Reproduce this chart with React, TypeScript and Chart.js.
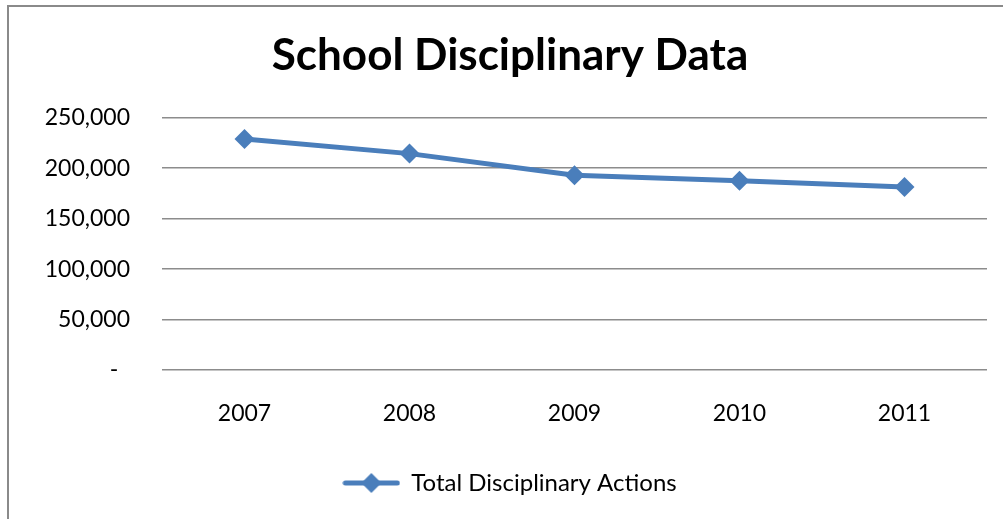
import React, { useEffect, useRef } from "react";
import { Chart, registerables } from "chart.js";

Chart.register(...registerables);

const years = ["2007", "2008", "2009", "2010", "2011"];
const totalActions = [229000, 214500, 193000, 187500, 181500];
const seriesName = "Total Disciplinary Actions";
const chartTitle = "School Disciplinary Data";
const yTicks = [0, 50000, 100000, 150000, 200000, 250000];

const BLUE = "#4a7ebb";
const GRID = "#8c8c8c";
const FONT = "Lato";

function makeLegendMarker(): HTMLCanvasElement {
  const c = document.createElement("canvas");
  c.width = 58;
  c.height = 22;
  const ctx = c.getContext("2d")!;
  ctx.strokeStyle = BLUE;
  ctx.lineWidth = 5;
  ctx.lineCap = "round";
  ctx.beginPath();
  ctx.moveTo(3, 11);
  ctx.lineTo(55, 11);
  ctx.stroke();
  ctx.fillStyle = BLUE;
  ctx.beginPath();
  ctx.moveTo(29, 1);
  ctx.lineTo(39, 11);
  ctx.lineTo(29, 21);
  ctx.lineTo(19, 11);
  ctx.closePath();
  ctx.fill();
  return c;
}

const frame = {
  id: "frame",
  beforeDraw(chart: Chart) {
    const ctx = chart.ctx;
    ctx.save();
    ctx.fillStyle = "#ffffff";
    ctx.fillRect(0, 0, chart.width, chart.height);
    ctx.strokeStyle = "#8a8a8a";
    ctx.lineWidth = 2;
    ctx.beginPath();
    ctx.moveTo(8, chart.height + 2);
    ctx.lineTo(8, 6);
    ctx.lineTo(chart.width + 2, 6);
    ctx.stroke();
    ctx.restore();
  },
};

export default function App() {
  const ref = useRef<HTMLCanvasElement>(null);

  useEffect(() => {
    if (!ref.current) return;
    const marker = makeLegendMarker();
    const chart = new Chart(ref.current, {
      type: "line",
      data: {
        labels: years,
        datasets: [
          {
            label: seriesName,
            data: totalActions,
            borderColor: BLUE,
            backgroundColor: BLUE,
            borderWidth: 5,
            pointStyle: "rectRot",
            pointRadius: 10,
            pointBorderWidth: 0,
            pointBackgroundColor: BLUE,
            tension: 0,
            yAxisID: "y",
          },
        ],
      },
      plugins: [frame],
      options: {
        responsive: false,
        animation: false,
        layout: { padding: { left: 0, right: 0, top: 0, bottom: 14 } },
        scales: {
          x: {
            offset: true,
            grid: { display: false },
            border: { display: false },
            ticks: {
              color: "#000",
              font: { family: FONT, size: 23 },
              padding: 22,
            },
            afterFit: (s: any) => {
              s.height = 91;
            },
          },
          y: {
            min: 0,
            max: 250000,
            afterBuildTicks: (s: any) => {
              s.ticks = yTicks.map((v) => ({ value: v }));
            },
            grid: { color: GRID, lineWidth: 1.6, drawTicks: false },
            border: { display: false },
            ticks: {
              color: "#000",
              font: { family: FONT, size: 23 },
              padding: 32,
              callback: (v: any) =>
                Number(v) === 0 ? "-  " : Number(v).toLocaleString("en-US"),
            },
            afterFit: (s: any) => {
              s.width = 162;
            },
          },
          y2: {
            position: "right",
            grid: { display: false },
            border: { display: false },
            ticks: { display: false },
            afterFit: (s: any) => {
              s.width = 33;
            },
          },
        },
        plugins: {
          title: {
            display: true,
            text: chartTitle,
            color: "#000",
            font: { family: FONT, size: 44, weight: "bold" },
            padding: { top: 29, bottom: 36 },
          },
          legend: {
            position: "bottom",
            labels: {
              usePointStyle: true,
              pointStyle: marker as any,
              pointStyleWidth: 56,
              color: "#000",
              font: { family: FONT, size: 24 },
              padding: 10,
              generateLabels: () => [
                {
                  text: seriesName,
                  pointStyle: marker as any,
                  fillStyle: BLUE,
                  strokeStyle: BLUE,
                  lineWidth: 0,
                  datasetIndex: 0,
                  hidden: false,
                } as any,
              ],
            },
          },
          tooltip: { enabled: false },
        },
      },
    });
    return () => chart.destroy();
  }, []);

  return (
    <div
      style={{
        position: "fixed",
        left: 0,
        top: 0,
        width: 1003,
        height: 519,
        overflow: "hidden",
        background: "#fff",
      }}
    >
      <canvas ref={ref} width={1020} height={519} style={{ display: "block" }} />
    </div>
  );
}
